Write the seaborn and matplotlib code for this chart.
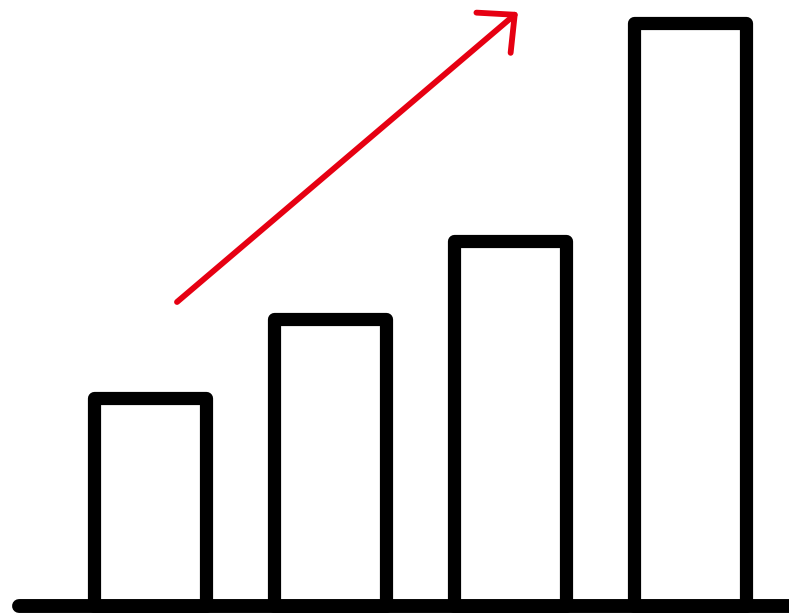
import matplotlib
matplotlib.use("Agg")
import matplotlib.pyplot as plt
import seaborn as sns
import pandas as pd

# datos del icono de barras
categorias = ["A", "B", "C", "D"]
valores = [208, 287, 365, 583]

# flecha de tendencia (posicion de categoria, valor)
flecha_x = [0.15, 2.044]
flecha_y = [304, 594]

df = pd.DataFrame({"categoria": categorias, "valor": valores})

sns.set_style("white")
fig = plt.figure(figsize=(7.89, 6.13), dpi=100)
ax = fig.add_axes([0, 0, 1, 1])

sns.barplot(data=df, x="categoria", y="valor", ax=ax, width=0.617,
            color="white", edgecolor="black", linewidth=9.5)
for barra in ax.patches:
    barra.set_facecolor("white")
    barra.set_joinstyle("round")

# linea base
ax.axhline(0, xmin=0.024, xmax=1, color="black", linewidth=10,
           solid_capstyle="round", zorder=5)

ax.annotate("", xy=(flecha_x[1], flecha_y[1]), xytext=(flecha_x[0], flecha_y[0]),
            arrowprops=dict(arrowstyle="->,head_length=2.0,head_width=1.9",
                            color="#e60012", linewidth=4.2,
                            shrinkA=0, shrinkB=0))

ax.set_xlim(-0.8333, 3.55)
ax.set_ylim(-7, 606)
ax.set_axis_off()

fig.savefig("out.png", dpi=100, facecolor="white")
